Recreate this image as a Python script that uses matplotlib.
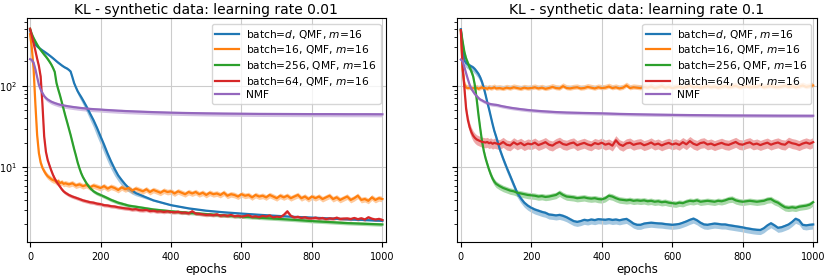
import numpy as np
import matplotlib
matplotlib.use("Agg")
import matplotlib.pyplot as plt

# epochs grids (coarse for smooth curves, fine for noisy ones)
ep_coarse = list(range(0, 151, 5)) + list(range(160, 301, 10)) + list(range(350, 1001, 50))
ep_fine = list(range(0, 101, 5)) + list(range(110, 1001, 10))

# ---- learning rate 0.01 ----
lr001_d = [480, 400, 345, 320, 305, 292, 282, 272, 263, 254, 245, 236, 227, 218, 209, 200,
           192, 185, 178, 172, 167, 163, 157, 150, 128, 108, 96, 86, 79, 73, 67,
           56, 46, 38, 30.5, 24, 19, 14.8, 11.8, 9.6, 8.0, 7.0, 6.2, 5.6, 5.2, 4.85,
           3.95, 3.45, 3.15, 2.95, 2.82, 2.72, 2.63, 2.55, 2.48, 2.43, 2.37, 2.32, 2.27, 2.22]
lr001_d_lo = [466, 388, 335, 310, 296, 283, 274, 264, 255, 246, 238, 229, 220, 211, 203, 194,
              186, 179, 173, 167, 162, 158, 152, 143, 121, 101, 89, 79, 71, 65, 59,
              48, 38.5, 31, 24, 19, 15, 11.8, 9.5, 7.9, 6.8, 6.0, 5.4, 5.0, 4.7, 4.5,
              3.85, 3.38, 3.1, 2.9, 2.77, 2.67, 2.58, 2.5, 2.43, 2.38, 2.32, 2.27, 2.22, 2.17]
lr001_256 = [500, 430, 385, 350, 320, 295, 275, 258, 242, 228, 213, 198, 183, 166, 148, 108,
             90, 76, 63, 52, 43, 36, 30, 25, 20.5, 16.8, 14, 11.5, 9.8, 8.5, 7.6,
             6.4, 5.6, 5.1, 4.8, 4.6, 4.4, 4.2, 4.0, 3.85, 3.7, 3.6, 3.5, 3.4, 3.35, 3.3,
             3.05, 2.9, 2.78, 2.68, 2.58, 2.5, 2.42, 2.35, 2.28, 2.2, 2.14, 2.08, 2.04, 2.0]
lr001_nmf = [212, 208, 192, 160, 128, 103, 90, 82, 75, 71, 68, 66, 64, 62.7, 61.5, 60.5,
             59.5, 58.7, 58, 57.5, 57, 56.5, 56, 55.6, 55.2, 54.8, 54.5, 54.1, 53.8, 53.5, 53.2,
             52.7, 52.2, 51.8, 51.5, 51.2, 50.8, 50.5, 50.2, 49.9, 49.6, 49.4, 49.1, 48.9, 48.7, 48.5,
             47.6, 46.9, 46.4, 46, 45.7, 45.5, 45.3, 45.2, 45.1, 45, 45, 44.9, 44.9, 44.8]
lr001_16 = [430, 290, 160, 60, 25, 15, 11.5, 9.9, 9.0, 8.3, 7.8, 7.5, 7.2, 7.0, 6.9, 6.6, 6.8, 6.4, 6.6, 6.3, 6.4,
            6.2, 6.4, 6.0, 6.2, 5.9, 6.1, 5.7, 6.0, 5.8, 5.6,
            5.9, 5.5, 5.8, 5.6, 5.3, 5.7, 5.4, 5.6, 5.2, 5.5,
            5.3, 5.1, 5.4, 5.0, 5.3, 5.1, 4.9, 5.2, 5.0, 5.1,
            4.8, 5.1, 4.9, 4.7, 5.0, 4.8, 5.0, 4.7, 4.9, 4.6,
            4.9, 4.7, 4.8, 4.6, 4.9, 4.5, 4.7, 4.6, 4.4, 4.7,
            4.5, 4.6, 4.3, 4.6, 4.4, 4.5, 4.3, 4.6, 4.4, 4.2,
            4.5, 4.3, 4.5, 4.2, 4.4, 4.6, 4.2, 4.4, 4.1, 4.4,
            4.2, 4.4, 4.1, 4.3, 4.5, 4.1, 4.3, 4.0, 4.2, 4.4,
            4.0, 4.2, 4.5, 4.0, 4.1, 3.9, 4.3, 4.0, 4.2, 4.1]
lr001_64 = [500, 410, 330, 270, 215, 175, 130, 60, 24, 15.5, 12.3, 10.6, 9.2, 8.1, 7.3, 6.7, 6.2, 5.8, 5.4, 5.1, 4.9,
            4.6, 4.4, 4.25, 4.1, 3.95, 3.85, 3.75, 3.7, 3.6, 3.55,
            3.45, 3.42, 3.35, 3.32, 3.25, 3.2, 3.15, 3.12, 3.05, 3.08,
            3.0, 2.98, 3.02, 2.92, 2.95, 2.88, 2.9, 2.85, 2.9, 2.84,
            2.82, 2.86, 2.78, 2.8, 2.74, 2.9, 2.72, 2.7, 2.66, 2.62,
            2.64, 2.6, 2.66, 2.56, 2.6, 2.55, 2.62, 2.52, 2.56, 2.5,
            2.54, 2.6, 2.48, 2.52, 2.46, 2.55, 2.5, 2.58, 2.44, 2.5,
            2.46, 2.62, 2.9, 2.55, 2.44, 2.48, 2.4, 2.45, 2.38, 2.37,
            2.42, 2.36, 2.4, 2.33, 2.38, 2.35, 2.42, 2.34, 2.36, 2.37,
            2.33, 2.4, 2.32, 2.38, 2.3, 2.45, 2.35, 2.3, 2.34, 2.27]

# ---- learning rate 0.1 ----
lr01_d = [495, 300, 205, 190, 183, 178, 173, 168, 160, 150, 140, 127, 112, 95, 78, 63, 52, 42, 34, 28, 24,
          17, 12.9, 10.0, 7.9, 6.2, 4.9, 4.2, 3.7, 3.4, 3.2,
          3.05, 2.95, 2.85, 2.78, 2.65, 2.62, 2.58, 2.62, 2.55, 2.45,
          2.32, 2.2, 2.15, 2.2, 2.28, 2.24, 2.3, 2.26, 2.32, 2.3,
          2.28, 2.32, 2.27, 2.3, 2.25, 2.3, 2.34, 2.2, 2.05, 1.98,
          1.98, 2.05, 2.08, 2.1, 2.08, 2.06, 2.05, 2.02, 2.0, 1.98,
          2.0, 2.03, 2.1, 2.18, 2.28, 2.36, 2.25, 2.1, 2.0, 1.98,
          2.02, 2.05, 2.03, 2.0, 2.0, 1.96, 1.93, 1.9, 1.87, 1.84,
          1.8, 1.77, 1.74, 1.72, 1.71, 1.8, 1.95, 2.07, 1.95, 1.82,
          1.85, 1.92, 2.0, 2.15, 2.35, 2.25, 1.98, 1.95, 1.98, 2.0]
lr01_256 = [480, 350, 260, 215, 190, 168, 150, 130, 100, 68, 44, 30, 21, 16, 13, 11, 9.4, 8.2, 7.3, 6.7, 6.3,
            5.9, 5.6, 5.4, 5.2, 5.1, 4.9, 4.8, 4.7, 4.6, 4.55,
            4.5, 4.4, 4.45, 4.35, 4.4, 4.5, 4.6, 4.9, 4.6, 4.4,
            4.35, 4.3, 4.2, 4.25, 4.3, 4.2, 4.15, 4.2, 4.1, 4.06,
            4.2, 4.5, 4.4, 4.2, 4.05, 4.0, 3.95, 4.0, 3.9, 3.95,
            3.9, 3.95, 3.85, 3.9, 3.8, 3.85, 3.75, 3.8, 3.7, 3.65,
            3.6, 3.7, 3.65, 3.8, 3.9, 3.85, 3.95, 3.8, 3.85, 3.9,
            3.85, 3.8, 3.9, 3.85, 3.95, 4.1, 4.15, 3.95, 3.85, 3.8,
            3.85, 3.9, 3.85, 3.8, 3.85, 3.9, 4.05, 4.1, 3.85, 3.7,
            3.45, 3.25, 3.2, 3.25, 3.2, 3.3, 3.35, 3.4, 3.5, 3.75]
lr01_64 = [480, 170, 95, 52, 38, 31, 27, 24.5, 23, 22, 21.5, 21, 20.6, 20.4, 20.2, 20.5, 19.8, 20.2, 19.5, 20.0, 19.7,
           19.2, 20.5, 19.0, 18.6, 20.3, 19.1, 20.0, 18.7, 19.6, 19.2,
           20.1, 18.8, 19.5, 20.4, 19.0, 18.5, 19.8, 20.6, 19.3, 18.9,
           19.7, 20.2, 18.7, 19.4, 20.0, 19.1, 18.6, 19.9, 19.3, 20.1,
           19.0, 19.6, 18.5, 21.5, 19.2, 18.4, 19.7, 20.1, 18.9, 19.5,
           19.8, 18.7, 19.3, 20.2, 19.0, 19.6, 18.6, 19.4, 20.0, 19.1,
           19.7, 18.9, 20.4, 19.2, 21.0, 19.5, 18.8, 19.9, 20.3, 19.1,
           19.6, 18.7, 19.4, 20.0, 19.2, 18.9, 19.7, 20.5, 19.3, 19.0,
           19.8, 20.3, 19.1, 19.6, 18.8, 19.5, 20.1, 19.0, 19.7, 20.2,
           19.3, 19.0, 20.6, 19.8, 19.4, 18.7, 19.6, 20.2, 19.5, 20.4]
lr01_16 = [480, 160, 105, 95, 94, 95, 92, 94, 93, 95, 92, 94, 96, 93, 94, 92, 95, 93, 94, 96, 93,
           94, 92, 95, 93, 96, 94, 92, 95, 93, 94,
           96, 93, 95, 92, 94, 97, 94, 93, 99, 94,
           93, 95, 96, 93, 94, 97, 95, 93, 96, 94,
           95, 98, 94, 96, 93, 95, 101, 94, 96, 95,
           94, 97, 95, 98, 94, 96, 99, 95, 97, 94,
           96, 98, 95, 97, 100, 96, 98, 95, 97, 99,
           96, 98, 95, 97, 99, 96, 98, 100, 96, 97,
           99, 96, 98, 97, 100, 96, 98, 99, 97, 96,
           98, 100, 97, 99, 96, 98, 101, 97, 99, 101]
lr01_nmf = [210, 200, 170, 142, 120, 103, 92, 85, 79, 75, 71, 68, 66.5, 64.5, 63, 61.5,
            60.5, 59.7, 59.2, 58.8, 58.5, 58, 57.2, 56.6, 56, 55.5, 55, 54.5, 54, 53.6, 53.2,
            52.5, 51.8, 51.2, 50.6, 50.1, 49.7, 49.3, 48.9, 48.6, 48.3, 48, 47.7, 47.5, 47.3, 47.1,
            46.5, 46, 45.3, 44.8, 44.4, 44.1, 43.8, 43.6, 43.4, 43.3, 43.2, 43.1, 43.05, 43]

labels = ["batch=$d$, QMF, $m$=16", "batch=16, QMF, $m$=16", "batch=256, QMF, $m$=16",
          "batch=64, QMF, $m$=16", "NMF"]
colors = ["tab:blue", "tab:orange", "tab:green", "tab:red", "tab:purple"]

# (epochs, mean, lower band, lower factor, upper factor)
panels = [
    ("KL - synthetic data: learning rate 0.01", [
        (ep_coarse, lr001_d, lr001_d_lo, 1.0, 1.03),
        (ep_fine, lr001_16, None, 0.92, 1.08),
        (ep_coarse, lr001_256, None, 0.95, 1.05),
        (ep_fine, lr001_64, None, 0.95, 1.05),
        (ep_coarse, lr001_nmf, None, 0.93, 1.04),
    ]),
    ("KL - synthetic data: learning rate 0.1", [
        (ep_fine, lr01_d, None, 0.88, 1.05),
        (ep_fine, lr01_16, None, 0.95, 1.1),
        (ep_fine, lr01_256, None, 0.9, 1.08),
        (ep_fine, lr01_64, None, 0.86, 1.14),
        (ep_coarse, lr01_nmf, None, 0.95, 1.04),
    ]),
]

fig, axes = plt.subplots(1, 2, sharey=True, figsize=(8.3, 2.75), dpi=100)
axes[0].set_position([0.032, 0.12, 0.433, 0.813])
axes[1].set_position([0.551, 0.12, 0.433, 0.813])

for ax, (title, series) in zip(axes, panels):
    for (ep, mean, lo, flo, fhi), c, lab in zip(series, colors, labels):
        mean = np.array(mean, dtype=float)
        low = np.array(lo, dtype=float) if lo is not None else mean * flo
        ax.fill_between(ep, low, mean * fhi, color=c, alpha=0.4, lw=0)
        ax.plot(ep, mean, color=c, lw=1.6, label=lab)
    ax.set_yscale("log")
    ax.set_xlim(-10, 1010)
    ax.set_ylim(1.22, 670)
    ax.set_xticks([0, 200, 400, 600, 800, 1000])
    ax.grid(True, which="major", color="#cccccc", lw=0.8)
    ax.tick_params(labelsize=7)
    ax.set_xlabel("epochs", fontsize=8.5, labelpad=1)
    ax.set_title(title, fontsize=10, pad=3)
    ax.legend(loc="upper right", fontsize=7.7, handlelength=2.2, handletextpad=0.7,
              borderpad=0.35, labelspacing=0.25, framealpha=0.8)

fig.savefig("out.png", dpi=100)
